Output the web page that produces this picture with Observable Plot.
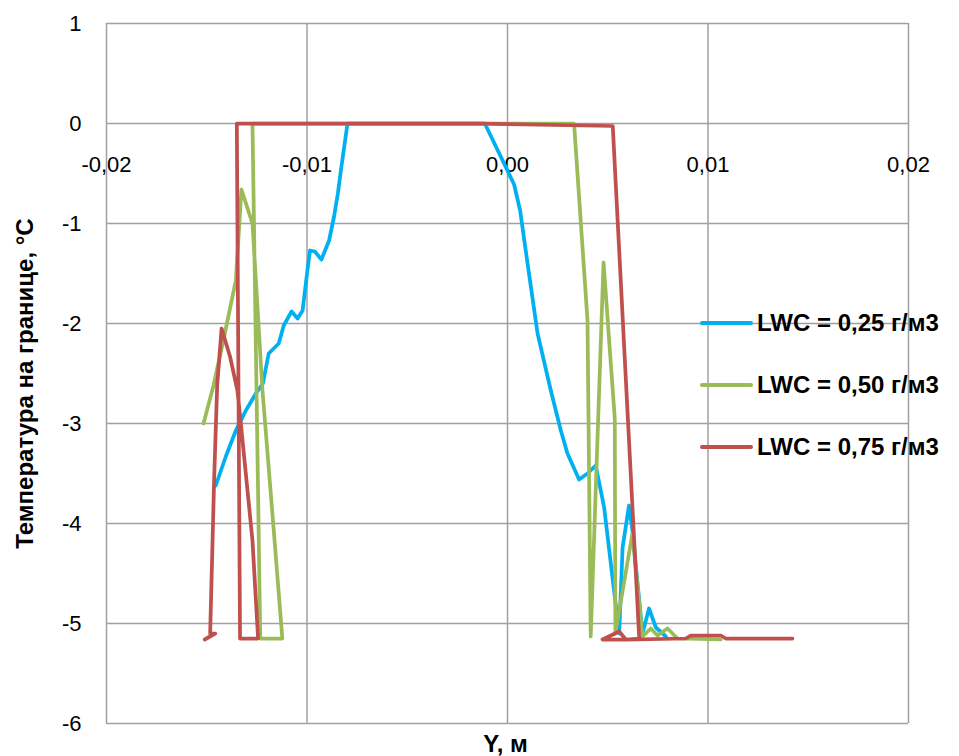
<!DOCTYPE html>
<html><head><meta charset="utf-8">
<script src="https://cdn.jsdelivr.net/npm/d3@7"></script>
<script src="https://cdn.jsdelivr.net/npm/@observablehq/plot@0.6"></script>
<style>
body{margin:0;background:#fff;}
#wrap{position:relative;width:959px;height:756px;font-family:"Liberation Sans",Arial,sans-serif;}
.leg{position:absolute;left:700px;height:30px;display:flex;align-items:center;font-weight:bold;font-size:24px;color:#000;white-space:nowrap;}
.sw{width:53px;height:4px;border-radius:2px;margin-right:4px;}
</style></head><body><div id="wrap"></div>
<script>
const xTicks = [-0.02, -0.01, 0, 0.01, 0.02];
const yTicks = [-6, -5, -4, -3, -2, -1, 0, 1];
const xTitle = "Y, м";
const yTitle = "Температура на границе, °С";
const seriesNames = ["LWC = 0,25 г/м3", "LWC = 0,50 г/м3", "LWC = 0,75 г/м3"];
const seriesColors = ["#00B0F0", "#9BBB59", "#C0504D"];

const blueX = [-0.01455,-0.01405,-0.01355,-0.01305,-0.01255,-0.01220,-0.01191,-0.01141,-0.01116,-0.01077,-0.01047,-0.01022,-0.00998,-0.00985,-0.00961,-0.00928,-0.00890,-0.00865,-0.00846,-0.00831,-0.00798,-0.00113,0.00033,0.00063,0.00100,0.00150,0.00216,0.00266,0.00299,0.00357,0.00399,0.00440,0.00482,0.00557,0.00574,0.00606,0.00623,0.00673,0.00706,0.00740,0.00790];
const blueY = [-3.62,-3.33,-3.07,-2.87,-2.70,-2.60,-2.30,-2.20,-2.02,-1.88,-1.95,-1.87,-1.47,-1.27,-1.28,-1.36,-1.17,-0.93,-0.70,-0.47,0,0,-0.61,-0.87,-1.40,-2.10,-2.67,-3.07,-3.30,-3.56,-3.50,-3.42,-3.84,-5.10,-4.24,-3.82,-4.07,-5.10,-4.85,-5.04,-5.13];

const greenX = [-0.01516,-0.01465,-0.01413,-0.01355,-0.01327,-0.01272,-0.01222,-0.01167,-0.01123,-0.01233,-0.01272,0.00332,0.00399,0.00415,0.00479,0.00535,0.00538,0.00623,0.00673,0.00715,0.00748,0.00798,0.00848,0.01064];
const greenY = [-3.00,-2.61,-2.13,-1.57,-0.66,-1.00,-2.67,-4.04,-5.15,-5.15,0,0,-1.97,-5.13,-1.39,-2.95,-5.10,-4.10,-5.13,-5.05,-5.12,-5.05,-5.15,-5.16];

const redX = [-0.01510,-0.01458,-0.01483,-0.01463,-0.01448,-0.01426,-0.01384,-0.01347,-0.01330,-0.01272,-0.01244,-0.01334,-0.01350,-0.00133,0.00525,0.00657,0.00590,0.00557,0.00474,0.00590,0.00889,0.00914,0.01064,0.01089,0.01421];
const redY = [-5.16,-5.10,-5.10,-3.55,-2.62,-2.05,-2.33,-2.67,-3.00,-4.17,-5.15,-5.15,0,0,-0.025,-5.15,-5.16,-5.08,-5.16,-5.16,-5.15,-5.12,-5.12,-5.15,-5.15];

const mk = (xs, ys) => xs.map((x, i) => ({x, y: ys[i]}));
const series = [mk(blueX, blueY), mk(greenX, greenY), mk(redX, redY)];
const grid = "#a0a0a0";

const plot = Plot.plot({
  width: 959, height: 756,
  marginLeft: 106, marginRight: 51, marginTop: 23, marginBottom: 33,
  x: {domain: [-0.02, 0.02], axis: null},
  y: {domain: [-6, 1], axis: null},
  style: {fontFamily: '"Liberation Sans", Arial, sans-serif', fontSize: "22px", color: "#000", background: "#fff", overflow: "visible"},
  marks: [
    Plot.ruleX(xTicks, {x: d => d, stroke: grid, strokeWidth: 1.5}),
    Plot.ruleY(yTicks, {y: d => d, stroke: grid, strokeWidth: 1.5}),
    Plot.text(yTicks, {y: d => d, frameAnchor: "left", text: d => String(d), textAnchor: "end", lineAnchor: "middle", dx: -25, fill: "#000", fontSize: 22}),
    Plot.text(xTicks, {x: d => d, y: () => 0, text: d => d.toFixed(2).replace(".", ","), dy: 41, fill: "#000", fontSize: 22}),
    ...series.map((s, i) => Plot.line(s, {x: "x", y: "y", stroke: seriesColors[i], strokeWidth: 3.75, strokeLinejoin: "round", strokeLinecap: "round"})),
    Plot.text([yTitle], {frameAnchor: "left", textAnchor: "middle", lineAnchor: "middle", rotate: -90, dx: -81, dy: 10, fontWeight: "bold", fontSize: 24, fill: "#000"}),
    Plot.text([xTitle], {frameAnchor: "bottom", textAnchor: "middle", lineAnchor: "middle", dx: -2, dy: 21, fontWeight: "bold", fontSize: 24, fill: "#000"})
  ]
});
const wrap = document.getElementById("wrap");
wrap.appendChild(plot);
const legTops = [308, 370, 432];
seriesNames.forEach((n, i) => {
  const d = document.createElement("div");
  d.className = "leg";
  d.style.top = legTops[i] + "px";
  const sw = document.createElement("div");
  sw.className = "sw";
  sw.style.background = seriesColors[i];
  d.appendChild(sw);
  const t = document.createElement("span");
  t.textContent = n;
  d.appendChild(t);
  wrap.appendChild(d);
});
</script></body></html>
